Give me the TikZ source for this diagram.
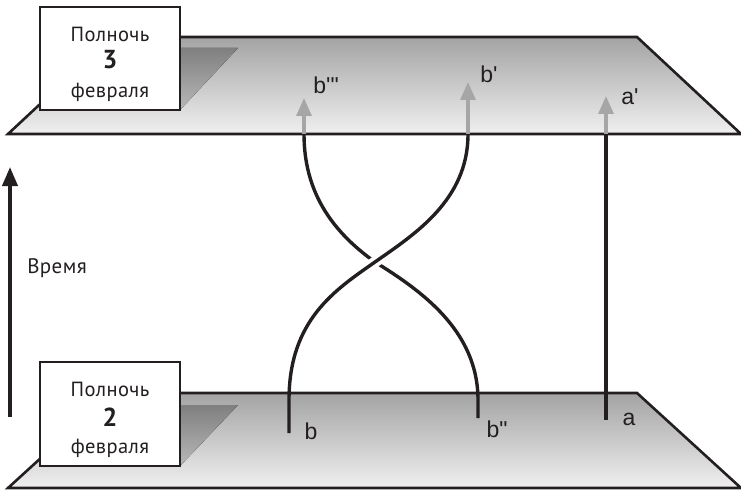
\documentclass[tikz,border=0pt]{standalone}
\usepackage{fontspec}
\setmainfont{PT Sans}[LetterSpace=2]
\newfontfamily\labfont{Liberation Sans}
\usetikzlibrary{arrows.meta}
\definecolor{ink}{HTML}{231F20}
\begin{document}
\begin{tikzpicture}[x=1pt,y=-1pt,
  plane/.style={draw=ink, line width=2.6pt, line join=miter, top color=black!36, bottom color=black!6},
  shadowtri/.style={top color=black!50, bottom color=black!28, draw=none},
  datebox/.style={draw=ink, line width=2.6pt, fill=white, minimum width=140pt, inner sep=0pt},
  boxtext/.style={anchor=base, inner sep=0pt, text=ink, font=\fontsize{20.5}{20.5}\selectfont},
  boxdigit/.style={anchor=base, inner sep=0pt, text=ink, font=\fontsize{26}{26}\selectfont\bfseries},
  strand/.style={line width=3.4pt, draw=ink},
  future/.style={line width=3.2pt, draw=black!35, -{Triangle[length=18pt,width=15pt]}},
  lab/.style={font=\labfont\fontsize{23}{23}\selectfont, text=ink, inner sep=0pt},
]
\useasboundingbox (0,0) rectangle (741,492);

% planes
\path[plane] (8,488) -- (741,488) -- (637,393) -- (112,393) -- cycle;
\fill[shadowtri] (180,405) -- (238,405) -- (180,466) -- cycle;
\path[plane] (8,134) -- (741,134) -- (637,37) -- (112,37) -- cycle;
\fill[shadowtri] (180,48) -- (238,48) -- (180,110) -- cycle;

% date boxes
\node[datebox, minimum height=103pt] (top) at (110,58.5) {};
\node[boxtext] (top1) at (110,42) {Полночь};
\node[boxdigit] (top2) at (110,69) {3};
\node[boxtext] (top3) at (110,98) {февраля};

\node[datebox, minimum height=104pt] (bot) at (110,414) {};
\node[boxtext] (bot1) at (110,396) {Полночь};
\node[boxdigit] (bot2) at (110,426) {2};
\node[boxtext] (bot3) at (110,453) {февраля};

% time axis
\coordinate (t0) at (10,417);
\coordinate (t1) at (10,167);
\draw[line width=3.8pt, draw=ink, -{Triangle[length=19pt,width=15pt]}] (t0) -- (t1);
\node[font=\fontsize{21}{21}\selectfont, text=ink, anchor=base, inner sep=0pt] (time) at (57,273) {Время};

% strand end points
\coordinate (bs) at (289,433);
\coordinate (bpps) at (478,418);
\coordinate (as) at (606,420);
\coordinate (bt) at (468,134);
\coordinate (bpppt) at (304,134);
\coordinate (at) at (606,134);
\coordinate (bptip) at (468,82);
\coordinate (bppptip) at (304,98);
\coordinate (aptip) at (606,96);
\coordinate (cross) at (375,262);

% strands: b'' goes under
\draw[strand] (bpps) -- (478,400) .. controls (478,330) and (420,290) .. (cross)
   .. controls (330,230) and (304,190) .. (bpppt);
\begin{scope}
  \clip (cross) circle (13pt);
  \draw[line width=11pt, white] (289,400) .. controls (289,320) and (335,290) .. (cross)
     .. controls (415,234) and (468,200) .. (bt);
\end{scope}
\draw[strand] (bs) -- (289,400) .. controls (289,320) and (335,290) .. (cross)
   .. controls (415,234) and (468,200) .. (bt);
\draw[strand] (as) -- (at);

% continuation arrows
\draw[future] (bt) -- (bptip);
\draw[future] (bpppt) -- (bppptip);
\draw[future] (at) -- (aptip);

% labels
\node[lab] (lbppp) at (326,85) {b\textquotesingle\textquotedbl};
\node[lab] (lbp) at (489,74) {b\textquotesingle};
\node[lab] (lap) at (630,97) {a\textquotesingle};
\node[lab] (lb) at (311,431) {b};
\node[lab] (lbpp) at (497,429) {b\textquotedbl};
\node[lab] (la) at (629,419) {a};
\end{tikzpicture}
\end{document}
